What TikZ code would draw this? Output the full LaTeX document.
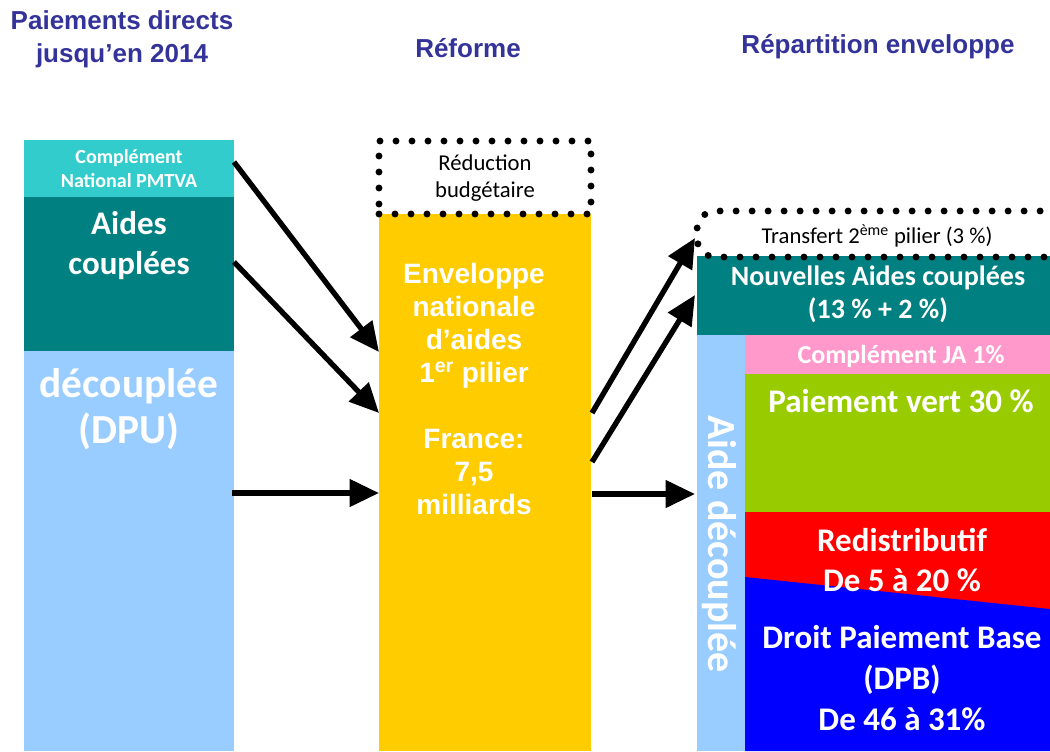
\documentclass[tikz,border=0pt]{standalone}
\usepackage{fontspec}
\setmainfont{Carlito}
\newfontfamily\arial{Liberation Sans}
\usetikzlibrary{arrows.meta,calc}
\definecolor{hdr}{HTML}{333399}
\definecolor{cPMT}{HTML}{33CCCC}
\definecolor{cTeal}{HTML}{008080}
\definecolor{cLB}{HTML}{99CCFF}
\definecolor{cYel}{HTML}{FFCC00}
\definecolor{cPink}{HTML}{FF99CC}
\definecolor{cGreen}{HTML}{99CC00}
\definecolor{cRed}{HTML}{FF0000}
\definecolor{cBlue}{HTML}{0000FF}
\tikzset{
  px/.style 2 args={minimum width=#1*0.75pt, minimum height=#2*0.75pt, anchor=north west, inner sep=0pt, outer sep=0pt},
  hd/.style={font=\arial\bfseries\fontsize{19.5}{25}\selectfont, text=hdr, align=center, inner sep=0pt},
  wt/.style={text=white, align=center, inner sep=0pt, font=\bfseries},
  dots/.style={draw=black, line width=5.2pt, line cap=round, dash pattern=on 0pt off 12pt},
  arr/.style={line width=4pt, -{Triangle[length=22pt,width=20pt]}}
}
\begin{document}
\begin{tikzpicture}[x=0.75pt,y=-0.75pt]
\useasboundingbox (0,0) rectangle (1050,751);
\fill[white] (0,0) rectangle (1050,751);
% headers
\node[hd] (h1) at (122,39) {Paiements directs\\jusqu’en 2014};
\node[hd] (h2) at (468,48) {Réforme};
\node[hd] (h3) at (878,47) {Répartition enveloppe};
% left column
\node[px={210}{57}, fill=cPMT] (pmtva) at (24,140) {};
\node[px={210}{154}, fill=cTeal] (coupl) at (24,197) {};
\node[px={210}{400}, fill=cLB] (dpu) at (24,351) {};
\node[wt, font=\bfseries\fontsize{15}{18}\selectfont] (tpmtva) at (129,169) {Complément\\National PMTVA};
\node[wt, font=\bfseries\fontsize{24.75}{30}\selectfont] (tcoupl) at (129,246) {Aides\\couplées};
\node[wt, font=\bfseries\fontsize{31}{35}\selectfont] (tdpu) at (129,409) {découplée\\(DPU)};
% middle
\node[px={212}{537}, fill=cYel] (env) at (379,214) {};
\node[px={212}{73}, dots] (redu) at (379,141) {};
\node[align=center, inner sep=0pt, font=\fontsize{17}{20}\selectfont] (tredu) at (485,178) {Réduction\\budgétaire};
\node[wt, font=\arial\bfseries\fontsize{21}{24.75}\selectfont] (tenv) at (474,389) {Enveloppe\\nationale\\d’aides\\1\textsuperscript{er} pilier\\[24.75pt]France:\\7,5\\milliards};
% right
\node[px={353}{79}, fill=cTeal] (nac) at (697,256) {};
\node[px={48}{416}, fill=cLB] (adc) at (697,335) {};
\node[px={305}{39}, fill=cPink] (ja) at (745,335) {};
\node[px={305}{138}, fill=cGreen] (vert) at (745,374) {};
\node[px={305}{97}, fill=cRed] (redis) at (745,512) {};
\fill[cBlue] (745,577) -- (1050,609) -- (1050,751) -- (745,751) -- cycle;
\coordinate (trtop) at (697,211);
\draw[dots, rounded corners=14pt] (1060,257) -- (697,257) -- (trtop) -- (1060,211);
\node[inner sep=0pt, font=\fontsize{17}{20}\selectfont] (ttr) at (877,236) {Transfert 2\textsuperscript{ème} pilier (3 \%)};
\node[wt, font=\bfseries\fontsize{21}{25}\selectfont] (tnac) at (878,294) {Nouvelles Aides couplées\\(13 \% + 2 \%)};
\node[wt, font=\bfseries\fontsize{19.5}{22}\selectfont] (tja) at (901,356) {Complément JA 1\%};
\node[wt, font=\bfseries\fontsize{24.75}{30}\selectfont] (tvert) at (901,401) {Paiement vert 30 \%};
\node[wt, font=\bfseries\fontsize{24.75}{30}\selectfont] (tredis) at (902,560) {Redistributif\\De 5 à 20 \%};
\node[wt, font=\bfseries\fontsize{24.75}{30.75}\selectfont] (tdpb) at (902,678) {Droit Paiement Base\\(DPB)\\De 46 à 31\%};
\node[wt, rotate=-90, font=\bfseries\fontsize{30}{36}\selectfont] (tadc) at (719,544) {Aide découplée};
% arrows
\draw[arr] ($(pmtva.north east)+(0,22)$) -- ($(env.north west)+(0,138)$);
\draw[arr] ($(coupl.north east)+(0,65)$) -- ($(env.north west)+(0,199)$);
\draw[arr] ($(dpu.north east)+(-2,142)$) -- ($(env.north west)+(0,279)$);
\draw[arr] ($(env.north east)+(1,199)$) -- ($(trtop)+(-2,27)$);
\draw[arr] ($(env.north east)+(1,248)$) -- ($(nac.north west)+(-2,39)$);
\draw[arr] ($(env.north east)+(1,280)$) -- ($(adc.north west)+(-2,159)$);
\end{tikzpicture}
\end{document}
